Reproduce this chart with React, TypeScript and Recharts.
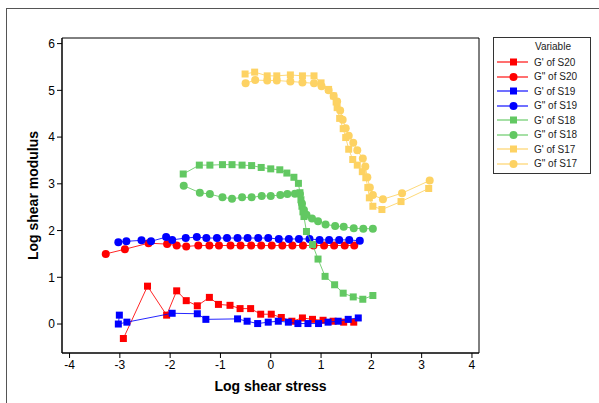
import { ReferenceArea, Scatter, ScatterChart, XAxis, YAxis } from "recharts";

// [log shear stress, log shear modulus]
const gp_S20: [number, number][] = [
  [-2.93, -0.31], [-2.45, 0.81], [-2.07, 0.19], [-1.87, 0.71], [-1.68, 0.5], [-1.46, 0.39],
  [-1.22, 0.57], [-1.04, 0.42], [-0.81, 0.4], [-0.61, 0.33], [-0.4, 0.33], [-0.2, 0.21],
  [0.01, 0.21], [0.21, 0.14], [0.42, 0.06], [0.63, 0.13], [0.83, 0.1], [1.04, 0.08],
  [1.24, 0.06], [1.45, 0.04], [1.65, 0.04],
];
const gpp_S20: [number, number][] = [
  [-3.28, 1.5], [-2.9, 1.6], [-2.43, 1.73], [-2.06, 1.71], [-1.87, 1.68], [-1.68, 1.66],
  [-1.44, 1.68], [-1.22, 1.68], [-1.03, 1.68], [-0.8, 1.68], [-0.6, 1.68], [-0.39, 1.68],
  [-0.19, 1.68], [0.02, 1.68], [0.23, 1.68], [0.43, 1.68], [0.64, 1.68], [0.85, 1.68],
  [1.06, 1.68], [1.26, 1.68], [1.47, 1.68], [1.66, 1.68],
];
const gp_S19: [number, number][] = [
  [-3.01, 0.19], [-3.03, 0.0], [-2.86, 0.04], [-1.96, 0.23], [-1.46, 0.22], [-1.29, 0.1],
  [-0.66, 0.11], [-0.47, 0.06], [-0.26, 0.01], [-0.05, 0.04], [0.15, 0.06], [0.35, 0.04],
  [0.54, 0.01], [0.74, 0.01], [0.95, 0.01], [1.14, 0.04], [1.34, 0.06], [1.54, 0.1],
  [1.74, 0.13],
];
const gpp_S19: [number, number][] = [
  [-3.03, 1.75], [-2.87, 1.77], [-2.57, 1.79], [-2.38, 1.77], [-2.08, 1.86], [-1.96, 1.8],
  [-1.69, 1.84], [-1.47, 1.86], [-1.28, 1.84], [-1.07, 1.84], [-0.87, 1.84], [-0.66, 1.84],
  [-0.46, 1.84], [-0.25, 1.84], [-0.05, 1.84], [0.16, 1.82], [0.36, 1.82], [0.56, 1.82],
  [0.77, 1.82], [0.97, 1.8], [1.16, 1.8], [1.36, 1.8], [1.56, 1.8], [1.77, 1.78],
];
const gp_S18: [number, number][] = [
  [-1.74, 3.21], [-1.42, 3.4], [-1.21, 3.4], [-0.96, 3.41], [-0.77, 3.41], [-0.57, 3.4],
  [-0.38, 3.39], [-0.19, 3.35], [0.0, 3.32], [0.18, 3.3], [0.32, 3.23], [0.46, 3.14],
  [0.55, 3.01], [0.58, 2.81], [0.6, 2.66], [0.62, 2.52], [0.64, 2.4], [0.66, 2.3],
  [0.71, 1.98], [0.83, 1.7], [0.94, 1.39], [1.08, 1.02], [1.27, 0.84], [1.44, 0.66],
  [1.64, 0.58], [1.83, 0.53], [2.03, 0.61],
];
const gpp_S18: [number, number][] = [
  [-1.73, 2.96], [-1.41, 2.81], [-1.21, 2.78], [-0.96, 2.71], [-0.77, 2.68], [-0.57, 2.71],
  [-0.38, 2.71], [-0.18, 2.74], [0.0, 2.74], [0.19, 2.76], [0.33, 2.78], [0.48, 2.79],
  [0.58, 2.78], [0.62, 2.58], [0.66, 2.44], [0.71, 2.34], [0.82, 2.26], [0.94, 2.2],
  [1.09, 2.13], [1.28, 2.1], [1.45, 2.08], [1.65, 2.05], [1.84, 2.04], [2.03, 2.04],
];
const gp_S17: [number, number][] = [
  [-0.51, 5.35], [-0.32, 5.39], [-0.07, 5.31], [0.12, 5.31], [0.39, 5.33], [0.63, 5.31],
  [0.86, 5.31], [1.0, 5.16], [1.15, 5.02], [1.25, 4.88], [1.3, 4.75], [1.32, 4.63],
  [1.37, 4.4], [1.44, 4.18], [1.49, 3.99], [1.55, 3.74], [1.63, 3.52], [1.72, 3.4],
  [1.82, 3.26], [1.89, 3.13], [1.93, 2.92], [1.96, 2.7], [2.03, 2.52], [2.21, 2.45],
  [2.59, 2.62], [3.14, 2.9],
];
const gpp_S17: [number, number][] = [
  [-0.5, 5.15], [-0.31, 5.22], [-0.07, 5.21], [0.12, 5.21], [0.39, 5.19], [0.63, 5.17],
  [0.86, 5.15], [1.01, 5.09], [1.15, 5.0], [1.25, 4.88], [1.32, 4.76], [1.38, 4.57],
  [1.43, 4.37], [1.49, 4.19], [1.55, 4.03], [1.64, 3.88], [1.72, 3.72], [1.83, 3.54],
  [1.88, 3.37], [1.92, 3.14], [1.97, 2.92], [2.03, 2.76], [2.23, 2.67], [2.61, 2.8],
  [3.16, 3.07],
];

const xTicks = [-4, -3, -2, -1, 0, 1, 2, 3, 4];
const yTicks = [0, 1, 2, 3, 4, 5, 6];
const X_DOMAIN: [number, number] = [-4.15, 4.14];
const Y_DOMAIN: [number, number] = [-0.62, 6.12];

type Marker = "square" | "circle";
const SERIES: { name: string; data: [number, number][]; color: string; marker: Marker }[] = [
  { name: "G' of S20", data: gp_S20, color: "#ff0000", marker: "square" },
  { name: 'G" of S20', data: gpp_S20, color: "#ff0000", marker: "circle" },
  { name: "G' of S19", data: gp_S19, color: "#0000ff", marker: "square" },
  { name: 'G" of S19', data: gpp_S19, color: "#0000ff", marker: "circle" },
  { name: "G' of S18", data: gp_S18, color: "#62c862", marker: "square" },
  { name: 'G" of S18', data: gpp_S18, color: "#62c862", marker: "circle" },
  { name: "G' of S17", data: gp_S17, color: "#fdd263", marker: "square" },
  { name: 'G" of S17', data: gpp_S17, color: "#fdd263", marker: "circle" },
];

const FONT = "'Liberation Sans', Arial, sans-serif";

function markerShape(marker: Marker, color: string) {
  return (props: any) => {
    const { cx, cy } = props;
    if (cx == null || cy == null) return <g />;
    return marker === "square" ? (
      <rect x={cx - 3.5} y={cy - 3.5} width={7} height={7} fill={color} />
    ) : (
      <circle cx={cx} cy={cy} r={4} fill={color} />
    );
  };
}

function LegendBox() {
  return (
    <div
      style={{
        position: "absolute",
        left: 493,
        top: 37,
        width: 98,
        height: 137,
        border: "1px solid #333",
        background: "#fff",
        fontFamily: FONT,
        fontSize: 10,
        color: "#222",
        boxSizing: "border-box",
      }}
    >
      <div style={{ paddingLeft: 41, paddingTop: 3, height: 17, boxSizing: "border-box" }}>Variable</div>
      {SERIES.map((s) => (
        <div key={s.name} style={{ display: "flex", alignItems: "center", height: 14.5 }}>
          <svg width={40} height={12} style={{ flexShrink: 0 }}>
            <line x1={3} x2={34} y1={6} y2={6} stroke={s.color} strokeOpacity={0.75} strokeWidth={1.5} />
            {s.marker === "square" ? (
              <rect x={16} y={2.5} width={7} height={7} fill={s.color} />
            ) : (
              <circle cx={19.5} cy={6} r={4} fill={s.color} />
            )}
          </svg>
          <span>{s.name}</span>
        </div>
      ))}
    </div>
  );
}

export default function App() {
  return (
    <div style={{ position: "absolute", left: 0, top: 0, width: 599, height: 403, background: "#fff", overflow: "hidden" }}>
      <div
        style={{
          position: "absolute",
          left: 6,
          top: 8,
          width: 700,
          height: 500,
          borderLeft: "1px solid #555",
          borderTop: "1px solid #555",
        }}
      />
      <ScatterChart width={599} height={403} margin={{ top: 38, right: 120, left: 0, bottom: 0 }}>
        <XAxis
          type="number"
          dataKey="x"
          domain={X_DOMAIN}
          ticks={xTicks}
          allowDataOverflow
          height={50}
          tickSize={5}
          tick={{ fill: "#000", fontSize: 12, fontFamily: FONT }}
          stroke="#000"
          label={{
            value: "Log shear stress",
            position: "insideBottom",
            offset: 12,
            style: { fill: "#000", fontSize: 14, fontWeight: "bold", fontFamily: FONT },
          }}
        />
        <YAxis
          type="number"
          dataKey="y"
          domain={Y_DOMAIN}
          ticks={yTicks}
          allowDataOverflow
          width={62}
          tickSize={5}
          tick={{ fill: "#000", fontSize: 12, fontFamily: FONT }}
          stroke="#000"
          label={{
            value: "Log shear modulus",
            angle: -90,
            position: "insideLeft",
            offset: 33,
            style: { textAnchor: "middle", fill: "#000", fontSize: 14, fontWeight: "bold", fontFamily: FONT },
          }}
        />
        <ReferenceArea
          x1={X_DOMAIN[0]}
          x2={X_DOMAIN[1]}
          y1={Y_DOMAIN[0]}
          y2={Y_DOMAIN[1]}
          fill="none"
          stroke="#000"
          strokeWidth={1}
          ifOverflow="visible"
        />
        {SERIES.map((s) => (
          <Scatter
            key={s.name}
            name={s.name}
            data={s.data.map(([x, y]) => ({ x, y }))}
            fill={s.color}
            line={{ stroke: s.color, strokeWidth: 1, strokeOpacity: 0.85 }}
            shape={markerShape(s.marker, s.color)}
            isAnimationActive={false}
          />
        ))}
      </ScatterChart>
      <LegendBox />
    </div>
  );
}
